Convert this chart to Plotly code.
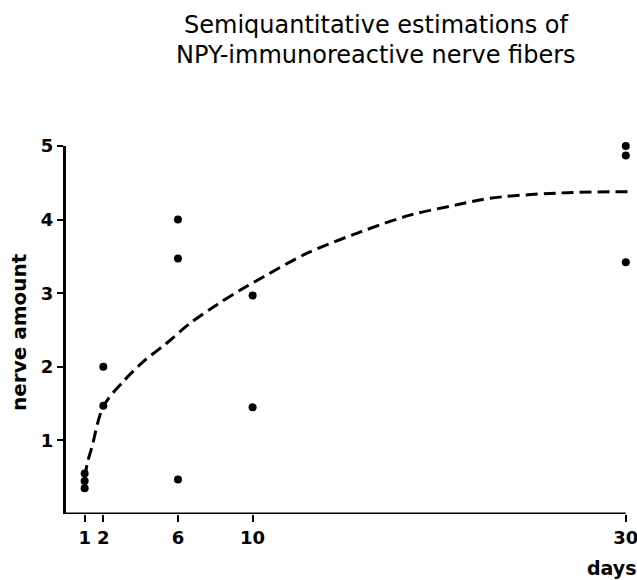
import plotly.graph_objects as go

# Observed estimations (days after, nerve amount)
obs_days = [1, 1, 1, 2, 2, 6, 6, 6, 10, 10, 30, 30, 30]
obs_vals = [0.55, 0.45, 0.35, 2.0, 1.47, 4.0, 3.47, 0.47, 2.97, 1.45, 5.0, 4.87, 3.42]

# Fitted dashed curve
curve_days = [1.0, 1.18, 1.38, 2.0, 3.07, 4.14, 5.39, 6.64, 8.07, 9.32, 10.57, 12.89, 15.75, 18.43, 20.93, 22.71, 26.28, 30.4]
curve_vals = [0.5, 0.73, 0.9, 1.46, 1.80, 2.07, 2.32, 2.59, 2.84, 3.04, 3.22, 3.54, 3.83, 4.06, 4.20, 4.29, 4.36, 4.38]

x_ticks = [1, 2, 6, 10, 30]
y_ticks = [1, 2, 3, 4, 5]

title_lines = ["Semiquantitative estimations of", "NPY-immunoreactive nerve fibers"]

FONT = "DejaVu Sans"
W, H = 637, 580
L, R, T, B = 66, 0, 146, 66
PW, PH = W - L - R, H - T - B

def px(xp):
    return (xp - L) / PW

def py(yp):
    return (H - B - yp) / PH

fig = go.Figure()
fig.add_trace(go.Scatter(x=curve_days, y=curve_vals, mode="lines",
                         line=dict(color="black", width=3, dash="12px,6px",
                                   shape="spline", smoothing=0.9),
                         hoverinfo="skip", showlegend=False, cliponaxis=False))
fig.add_trace(go.Scatter(x=obs_days, y=obs_vals, mode="markers",
                         marker=dict(color="black", size=8),
                         showlegend=False, cliponaxis=False))

# axis lines
fig.add_shape(type="line", x0=-0.15, x1=30, y0=0, y1=0, xref="x", yref="y",
              line=dict(color="black", width=3))
fig.add_shape(type="line", x0=0, x1=0, y0=-0.1, y1=0, xref="x", yref="y",
              line=dict(color="black", width=3))

fig.update_layout(
    width=W, height=H,
    margin=dict(l=L, r=R, t=T, b=B),
    paper_bgcolor="white", plot_bgcolor="white",
    font=dict(family=FONT, color="black"),
    xaxis=dict(range=[0, 30.6], showline=False, zeroline=False, showgrid=False,
               tickmode="array", tickvals=x_ticks, ticktext=[str(v) for v in x_ticks],
               ticks="outside", ticklen=7, tickwidth=2, tickcolor="black",
               ticklabeloverflow="allow",
               tickfont=dict(family=FONT, size=18, color="black", weight="bold")),
    yaxis=dict(range=[0, 5], showline=True, linewidth=3, linecolor="black",
               zeroline=False, showgrid=False,
               tickmode="array", tickvals=y_ticks, ticktext=[str(v) for v in y_ticks],
               ticks="outside", ticklen=6, tickwidth=2, tickcolor="black",
               tickfont=dict(family=FONT, size=18, color="black", weight="bold")),
)

for text, yc in zip(title_lines, [25, 55]):
    fig.add_annotation(text=text, showarrow=False, xref="paper", yref="paper",
                       x=px(376), y=py(yc), xanchor="center", yanchor="middle",
                       font=dict(family=FONT, size=24, color="black"))

fig.add_annotation(text="nerve amount", textangle=-90, showarrow=False,
                   xref="paper", yref="paper", x=px(19), y=py(332),
                   xanchor="center", yanchor="middle",
                   font=dict(family=FONT, size=20, color="black", weight="bold"))
fig.add_annotation(text="days", showarrow=False,
                   xref="paper", yref="paper", x=px(612), y=py(568),
                   xanchor="center", yanchor="middle",
                   font=dict(family=FONT, size=19, color="black", weight="bold"))

fig.write_html("out.html",
               config={"displayModeBar": False},
               post_script="document.body.style.margin='0';document.body.style.overflow='hidden';")
